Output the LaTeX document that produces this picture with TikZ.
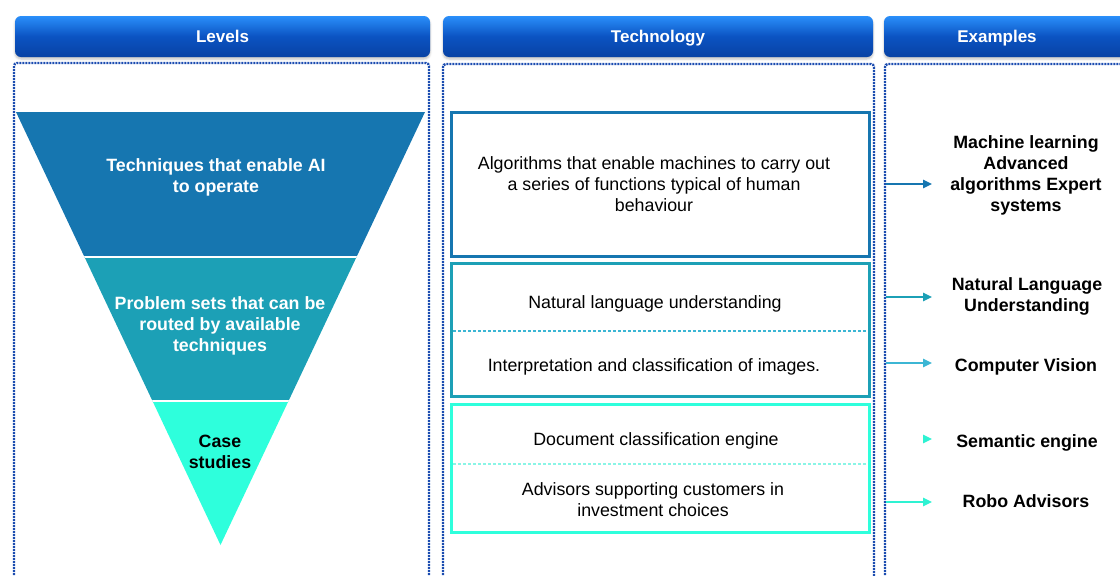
\documentclass[tikz,border=0pt]{standalone}
\usepackage{fontspec}
\setmainfont{Liberation Sans}
\usetikzlibrary{arrows.meta,shadows.blur}
\definecolor{bandA}{HTML}{1676B0}
\definecolor{bandB}{HTML}{1CA0B6}
\definecolor{bandC}{HTML}{2EFFDC}
\definecolor{arrC}{HTML}{2EF2D2}
\definecolor{sepB}{HTML}{3CB6D4}
\definecolor{sepC}{HTML}{8AF5E6}
\definecolor{hdTop}{HTML}{2A8FFA}
\definecolor{hdMid}{HTML}{0B53C2}
\definecolor{hdBot}{HTML}{0842A4}
\definecolor{colBorder}{HTML}{1B4CB0}

\begin{document}
\begin{tikzpicture}[x=1pt, y=-1pt,
  hdbar/.style = {rounded corners=6pt, top color=hdTop, bottom color=hdBot, middle color=hdMid, minimum height=41pt, text=white, font=\fontsize{17}{20}\selectfont\bfseries, text height=12.5pt, text depth=0pt, blur shadow={shadow xshift=0pt, shadow yshift=-2pt, shadow opacity=25}},
  column/.style = {draw=colBorder, line width=2.4pt, dash pattern=on 2pt off 1pt, rounded corners=3pt},
  techbox/.style = {draw, line width=3pt, fill=white, inner sep=0pt},
  txt/.style = {align=center, font=\fontsize{17.8}{21}\selectfont},
  btxt/.style = {align=center, font=\fontsize{17.8}{21}\selectfont\bfseries},
  sep/.style = {dash pattern=on 3pt off 2pt, line width=1.2pt, shorten <=3pt, shorten >=3pt},
  arr/.style = {-{Triangle[length=9pt,width=8.5pt]}, line width=1.3pt, shorten <=15pt}]
\useasboundingbox (0,0) rectangle (1120,576);

% headers
\node[hdbar, minimum width=415pt] (hlevels) at (222.5,36.5) {Levels};
\node[hdbar, minimum width=430pt] (htech) at (658,36.5) {Technology};
\node[hdbar, minimum width=250pt, label={[text=white, font=\fontsize{17}{20}\selectfont\bfseries, text height=12.5pt, text depth=0pt, xshift=-12pt]center:Examples}] (hexamples) at (1009,36.5) {};

% columns
\draw[column] (14,590) -- (14,63) -- (429,63) -- (429,590);
\draw[column] (443,590) -- (443,64) -- (874,64) -- (874,590);
\draw[column] (885,590) -- (885,64) -- (1135,64);

% funnel
\begin{scope}
\clip (16,112) -- (425,112) -- (220.5,545) -- cycle;
\fill[bandA] (0,112) rectangle (440,257);
\fill[bandB] (0,257) rectangle (440,401);
\fill[bandC] (0,401) rectangle (440,550);
\draw[white, line width=2pt] (0,257) -- (440,257) (0,401) -- (440,401);
\end{scope}
\node[btxt, text=white] (tech) at (216,177) {Techniques that enable AI\\to operate};
\node[btxt, text=white] (problems) at (220,325.5) {Problem sets that can be\\routed by available\\techniques};
\node[btxt] (cases) at (220,451.5) {Case\\studies};

% technology boxes
\node[techbox, draw=bandA, minimum width=417.5pt, minimum height=144pt] (box1) at (660.25,184) {};
\node[techbox, draw=bandB, minimum width=417.5pt, minimum height=133pt] (box2) at (660.25,330) {};
\node[techbox, draw=bandC, minimum width=417.5pt, minimum height=128pt] (box3) at (660.25,468) {};
\draw[sep, sepB] (box2.west |- 0,331) -- (box2.east |- 0,331);
\draw[sep, sepC] (box3.west |- 0,464) -- (box3.east |- 0,464);

\node[txt] (algorithms) at (654,184.5) {Algorithms that enable machines to carry out\\a series of functions typical of human\\behaviour};
\node[txt] (nlu) at (655,303.5) {Natural language understanding};
\node[txt] (images) at (654,366.5) {Interpretation and classification of images.};
\node[txt] (docs) at (656,440.5) {Document classification engine};
\node[txt] (advisors) at (653,500) {Advisors supporting customers in\\investment choices};

% examples
\node[btxt] (ml) at (1026,175) {Machine learning\\Advanced\\algorithms Expert\\systems};
\node[btxt] (natlang) at (1027,296.5) {Natural Language\\Understanding};
\node[btxt] (vision) at (1026,366.5) {Computer Vision};
\node[btxt] (semantic) at (1027,442.5) {Semantic engine};
\node[btxt] (robo) at (1026,501.5) {Robo Advisors};

\coordinate (tip1) at (932,184);
\coordinate (tip2) at (932,297);
\coordinate (tip3) at (932,363);
\coordinate (tip4) at (932,439);
\coordinate (tip5) at (932,502);
\draw[arr, bandA] (box1.east |- tip1) -- (tip1);
\draw[arr, bandB] (box2.east |- tip2) -- (tip2);
\draw[arr, sepB] (box2.east |- tip3) -- (tip3);
\draw[arr, arrC, shorten <=53pt] (box3.east |- tip4) -- (tip4);
\draw[arr, arrC] (box3.east |- tip5) -- (tip5);
\end{tikzpicture}
\end{document}
